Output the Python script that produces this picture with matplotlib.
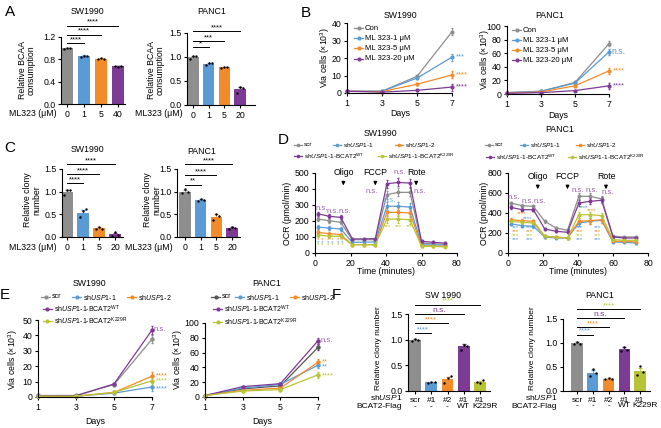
import matplotlib
matplotlib.use('Agg')
import matplotlib.pyplot as plt
import numpy as np
from matplotlib.lines import Line2D

plt.rcParams['font.family'] = ['Liberation Sans', 'DejaVu Sans']
plt.rcParams['mathtext.fontset'] = 'custom'
plt.rcParams['mathtext.rm'] = 'Liberation Sans'
plt.rcParams['mathtext.it'] = 'Liberation Sans:italic'
plt.rcParams['axes.linewidth'] = 0.8
plt.rcParams['xtick.major.size'] = 2.5
plt.rcParams['ytick.major.size'] = 2.5
plt.rcParams['xtick.major.width'] = 0.8
plt.rcParams['ytick.major.width'] = 0.8
plt.rcParams['xtick.major.pad'] = 1.5
plt.rcParams['ytick.major.pad'] = 1.5
plt.rcParams['xtick.labelsize'] = 6.3
plt.rcParams['ytick.labelsize'] = 6.3

GRAY = '#8e8e8e'
DGRAY = '#555555'
BLUE = '#5b9bd5'
ORANGE = '#f28b2a'
PURPLE = '#7e3b96'
YELLOW = '#b8c437'

#%% data
# A: relative BCAA consumption
a_sw_dose = ['0', '1', '5', '40']
a_sw_mean = [1.0, 0.86, 0.81, 0.68]
a_sw_err = [0.01, 0.01, 0.01, 0.005]
a_sw_pts = [[0.98, 1.01, 1.0], [0.85, 0.86, 0.86], [0.80, 0.82, 0.81], [0.68, 0.67, 0.68]]
a_pa_dose = ['0', '1', '5', '20']
a_pa_mean = [1.0, 0.86, 0.79, 0.33]
a_pa_err = [0.03, 0.02, 0.01, 0.05]
a_pa_pts = [[0.95, 1.03, 1.02], [0.84, 0.87, 0.88], [0.78, 0.80, 0.79], [0.26, 0.38, 0.36]]

# C: relative clony number
c_sw_dose = ['0', '1', '5', '20']
c_sw_mean = [1.0, 0.53, 0.19, 0.06]
c_sw_err = [0.04, 0.07, 0.02, 0.03]
c_sw_pts = [[0.93, 1.03, 1.04], [0.45, 0.57, 0.62], [0.18, 0.21, 0.18], [0.03, 0.10, 0.05]]
c_pa_dose = ['0', '1', '5', '20']
c_pa_mean = [1.0, 0.81, 0.45, 0.20]
c_pa_err = [0.03, 0.02, 0.05, 0.02]
c_pa_pts = [[0.97, 1.05, 1.0], [0.79, 0.83, 0.82], [0.38, 0.50, 0.46], [0.18, 0.22, 0.20]]

# B: viable cells (x10^3)
days = [1, 3, 5, 7]
b_sw_con = [1.0, 1.0, 9.5, 35.0]
b_sw_1 = [1.0, 1.0, 8.5, 20.5]
b_sw_5 = [1.0, 0.8, 5.0, 10.3]
b_sw_20 = [1.0, 0.5, 1.5, 3.4]
b_sw_err = [0.2, 0.2, 0.5, 2.0]
b_pa_con = [2.0, 4.0, 17.0, 74.0]
b_pa_1 = [2.0, 4.0, 16.0, 62.0]
b_pa_5 = [1.5, 3.0, 12.0, 34.0]
b_pa_20 = [1.0, 2.0, 5.0, 12.0]
b_pa_err = [0.5, 0.5, 1.0, 4.0]
b_labels = ['Con', 'ML 323-1 μM', 'ML 323-5 μM', 'ML 323-20 μM']

# D: OCR (pmol/min)
t_ocr = [1.5, 8, 14.5, 21, 27.5, 34, 40.5, 47, 53.5, 60, 66.5, 73]
d_sw_scr = [212, 202, 192, 83, 83, 83, 365, 379, 379, 62, 58, 54]
d_sw_sh1 = [162, 156, 150, 67, 67, 69, 292, 292, 287, 52, 50, 50]
d_sw_sh2 = [129, 121, 115, 52, 52, 52, 254, 254, 250, 46, 42, 42]
d_sw_wt = [246, 229, 223, 88, 88, 90, 433, 441, 437, 73, 67, 62]
d_sw_kr = [115, 104, 104, 52, 52, 52, 212, 212, 208, 42, 42, 38]
d_sw_err = [12, 12, 12, 6, 6, 6, 25, 25, 25, 6, 6, 6]
d_pa_scr = [500, 473, 467, 317, 250, 227, 567, 567, 540, 167, 160, 160]
d_pa_sh1 = [293, 273, 267, 160, 150, 150, 300, 317, 327, 110, 107, 100]
d_pa_sh2 = [333, 323, 317, 167, 160, 150, 317, 323, 333, 117, 117, 110]
d_pa_wt = [457, 433, 433, 240, 217, 207, 500, 517, 527, 160, 150, 150]
d_pa_kr = [317, 307, 300, 167, 157, 150, 383, 383, 373, 133, 127, 127]
d_pa_err = [15, 15, 15, 12, 10, 10, 30, 30, 30, 8, 8, 8]

# E: viable cells (x10^3)
e_sw_scr = [1.0, 1.0, 8.0, 37.5]
e_sw_sh1 = [0.5, 0.5, 2.5, 6.5]
e_sw_sh2 = [0.5, 0.5, 3.0, 13.5]
e_sw_wt = [0.5, 0.8, 8.5, 43.5]
e_sw_kr = [0.5, 0.5, 3.0, 10.5]
e_sw_err = [0.2, 0.2, 0.5, 2.5]
e_pa_scr = [2.0, 11.0, 15.0, 67.0]
e_pa_sh1 = [2.0, 12.0, 17.0, 43.0]
e_pa_sh2 = [2.0, 9.0, 12.0, 47.0]
e_pa_wt = [2.0, 14.0, 18.0, 76.0]
e_pa_kr = [2.0, 8.0, 10.0, 30.0]
e_pa_err = [0.5, 1.0, 1.5, 4.0]
sh_labels = ['scr', r'sh$\it{USP1}$-1', r'sh$\it{USP1}$-2',
             r'sh$\it{USP1}$-1-BCAT2$^{\rm WT}$', r'sh$\it{USP1}$-1-BCAT2$^{\rm K229R}$']

# F: relative clony number
f_sh = ['scr', '#1', '#2', '#1', '#1']
f_flag = ['-', '-', '-', 'WT', 'K229R']
f_sw_mean = [1.0, 0.17, 0.23, 0.87, 0.18]
f_sw_err = [0.02, 0.01, 0.05, 0.04, 0.02]
f_sw_pts = [[0.97, 1.02, 1.0], [0.15, 0.18, 0.17], [0.15, 0.25, 0.29], [0.80, 0.90, 0.88], [0.17, 0.16, 0.22]]
f_pa_mean = [1.0, 0.38, 0.26, 0.87, 0.41]
f_pa_err = [0.02, 0.05, 0.01, 0.04, 0.06]
f_pa_pts = [[0.98, 1.02, 0.98], [0.32, 0.45, 0.38], [0.24, 0.28, 0.26], [0.83, 0.92, 0.86], [0.33, 0.52, 0.40]]

#%% helpers, everything placed in pixels of the 661x428 picture
W, H = 661, 428
fig = plt.figure(figsize=(W / 100, H / 100), dpi=100)


def px_ax(x0, x1, ytop, ybot):
    ax = fig.add_axes([x0 / W, 1 - ybot / H, (x1 - x0) / W, (ybot - ytop) / H])
    ax.spines['top'].set_visible(False)
    ax.spines['right'].set_visible(False)
    return ax


def ftext(x, y, s, **kw):
    kw.setdefault('fontsize', 6.3)
    kw.setdefault('ha', 'center')
    kw.setdefault('va', 'center')
    fig.text(x / W, 1 - y / H, s, **kw)


def leg(x, y, col, label, fs=5, length=9, ms=2):
    fig.add_artist(Line2D([x / W, (x + length / 2) / W, (x + length) / W], [1 - y / H] * 3,
                          color=col, lw=0.9, marker='o', ms=ms, markevery=[1]))
    ftext(x + length + 2, y, label, fontsize=fs, ha='left')


def bar_panel(xs, c0, cn, xe, ytop, ybot, means, errs, pts, cols, ymax, yticks, labels):
    n = len(means)
    s = (cn - c0) / (n - 1)
    ax = px_ax(xs, xe, ytop, ybot)
    x = np.arange(n)
    ax.bar(x, means, width=0.72, color=cols, zorder=1)
    for i in range(n):
        ax.errorbar(i, means[i], yerr=errs[i], color=cols[i], lw=0.6, capsize=1.2, zorder=2)
        p = pts[i]
        ax.scatter(i + np.linspace(-0.2, 0.2, len(p)), p, s=3, color='k', zorder=3, lw=0)
    ax.set_xlim((xs - c0) / s, n - 1 + (xe - cn) / s)
    ax.set_ylim(0, ymax)
    ax.set_yticks(yticks)
    ax.set_xticks(x)
    ax.set_xticklabels(labels)
    return ax


def sig(ax, x0, x1, y, s, col='k', fs=5.5):
    ax.plot([x0, x1], [y, y], color='k', lw=0.7, clip_on=False)
    ax.text((x0 + x1) / 2, y, s, ha='center', va='bottom', fontsize=fs, color=col)


def line_panel(x0, x1, ytop, ybot, xv, series, errs, ymax, yticks, ms=2):
    ax = px_ax(x0, x1, ytop, ybot)
    for vals, col in series:
        ax.errorbar(xv, vals, yerr=errs, color=col, lw=0.9, marker='o', ms=ms,
                    capsize=1, elinewidth=0.6, clip_on=False)
    ax.set_ylim(0, ymax)
    ax.set_yticks(yticks)
    return ax


#%% A
cols4 = [GRAY, BLUE, ORANGE, PURPLE]
ax = bar_panel(61, 67, 118, 125, 37, 104, a_sw_mean, a_sw_err, a_sw_pts, cols4, 1.2,
               [0, 0.4, 0.8, 1.2], a_sw_dose)
ax.set_yticklabels(['0.0', '0.4', '0.8', '1.2'])
sig(ax, 0, 1, 1.09, '****')
sig(ax, 0, 2, 1.24, '****')
sig(ax, 0, 3, 1.40, '****')
ax = bar_panel(187, 193, 240, 255, 33, 105, a_pa_mean, a_pa_err, a_pa_pts, cols4, 1.5,
               [0, 0.5, 1.0, 1.5], a_pa_dose)
sig(ax, 0, 1, 1.21, '*')
sig(ax, 0, 2, 1.33, '***')
sig(ax, 0, 3, 1.54, '****')
ftext(10, 12, 'A', fontsize=11)
ftext(87, 12, 'SW1990')
ftext(212, 12, 'PANC1')
ftext(27, 70, 'Relative BCAA\nconsumption', rotation=90, linespacing=1.0)
ftext(156, 70, 'Relative BCAA\nconsumption', rotation=90, linespacing=1.0)
ftext(57, 113, 'ML323 (μM)', ha='right')
ftext(183, 113, 'ML323 (μM)', ha='right')

#%% C
ax = bar_panel(62, 67, 115, 123, 169, 237, c_sw_mean, c_sw_err, c_sw_pts, cols4, 1.5,
               [0, 0.5, 1.0, 1.5], c_sw_dose)
sig(ax, 0, 1, 1.19, '****')
sig(ax, 0, 2, 1.39, '****')
sig(ax, 0, 3, 1.61, '****')
ax = bar_panel(177, 185, 232, 240, 169, 237, c_pa_mean, c_pa_err, c_pa_pts, cols4, 1.5,
               [0, 0.5, 1.0, 1.5], c_pa_dose)
sig(ax, 0, 1, 1.15, '**')
sig(ax, 0, 2, 1.37, '****')
sig(ax, 0, 3, 1.61, '****')
ftext(10, 148, 'C', fontsize=11)
ftext(87, 150, 'SW1990')
ftext(202, 151, 'PANC1')
ftext(32, 200, 'Relative clony\nnumber', rotation=90, linespacing=1.0)
ftext(152, 200, 'Relative clony\nnumber', rotation=90, linespacing=1.0)
ftext(57, 247, 'ML323 (μM)', ha='right')
ftext(173, 247, 'ML323 (μM)', ha='right')

#%% B
ax = line_panel(347, 452, 23, 93, days,
                [(b_sw_con, GRAY), (b_sw_1, BLUE), (b_sw_5, ORANGE), (b_sw_20, PURPLE)],
                b_sw_err, 40, [0, 10, 20, 30, 40])
ax.set_xlim(1, 7)
ax.set_xticks(days)
ax.text(7.2, 20.5, '***', color=BLUE, fontsize=5.5, va='center')
ax.text(7.2, 10.3, '****', color=ORANGE, fontsize=5.5, va='center')
ax.text(7.2, 3.4, '****', color=PURPLE, fontsize=5.5, va='center')
ax = line_panel(507, 609, 26, 94, days,
                [(b_pa_con, GRAY), (b_pa_1, BLUE), (b_pa_5, ORANGE), (b_pa_20, PURPLE)],
                b_pa_err, 100, [0, 20, 40, 60, 80, 100])
ax.set_xlim(1, 7)
ax.set_xticks(days)
ax.text(7.15, 62, 'n.s.', color=BLUE, fontsize=6.3, va='center')
ax.text(7.2, 34, '****', color=ORANGE, fontsize=5.5, va='center')
ax.text(7.2, 12, '****', color=PURPLE, fontsize=5.5, va='center')
ftext(306, 13, 'B', fontsize=11)
ftext(400, 15, 'SW1990')
ftext(550, 15, 'PANC1')
ftext(325, 58, r'Via cells ($\times$10$^3$)', rotation=90)
ftext(485, 60, r'Via cells ($\times$10$^3$)', rotation=90)
ftext(400, 113, 'Days')
ftext(558, 115, 'Days')
for i, (lab, col) in enumerate(zip(b_labels, cols4)):
    leg(354, 28 + i * 10.2, col, lab, fs=5.6, length=9)
    leg(512, 30 + i * 10, col, lab, fs=5.6, length=9)

#%% D
cols5 = [GRAY, BLUE, ORANGE, PURPLE, YELLOW]
ax = line_panel(315, 457, 173, 253, t_ocr,
                [(d_sw_scr, GRAY), (d_sw_sh1, BLUE), (d_sw_sh2, ORANGE), (d_sw_wt, PURPLE),
                 (d_sw_kr, YELLOW)], d_sw_err, 500, [0, 100, 200, 300, 400, 500], ms=1.8)
ax.set_xlim(0, 80)
ax.set_xticks([0, 20, 40, 60, 80])
for tx, lab in [(16, 'Oligo'), (34, 'FCCP'), (57, 'Rote')]:
    ax.text(tx, 500, lab, fontsize=6.3, ha='center', va='center')
    ax.annotate('', xy=(tx, 405), xytext=(tx, 465), annotation_clip=False,
                arrowprops=dict(arrowstyle='-|>', lw=0.8, color='k', mutation_scale=5))
for tx, ty in [(3.5, 280), (10, 262), (17, 262), (32, 385), (48, 500), (59, 385)]:
    ax.text(tx, ty, 'n.s.', fontsize=5.6, color=PURPLE, ha='center', va='center', alpha=0.8)
ax.text(42, 330, 'n.s.', fontsize=5.6, color=BLUE, ha='center', va='center', alpha=0.8)
for tx in [3, 8.5, 14.5]:
    for ty, col in [(95, YELLOW), (78, ORANGE), (61, BLUE), (44, YELLOW)]:
        ax.text(tx, ty, '* *', fontsize=4.5, color=col, ha='center', va='center')
for tx in [41, 47, 53]:
    ax.text(tx, 165, '***', fontsize=4.5, color=YELLOW, ha='center', va='center')
ax = line_panel(508, 648, 173, 253, t_ocr,
                [(d_pa_scr, GRAY), (d_pa_sh1, BLUE), (d_pa_sh2, ORANGE), (d_pa_wt, PURPLE),
                 (d_pa_kr, YELLOW)], d_pa_err, 800, [0, 200, 400, 600, 800], ms=1.8)
ax.set_xlim(0, 80)
ax.set_xticks([0, 20, 40, 60, 80])
for tx, lab in [(17, 'Oligo'), (34, 'FCCP'), (56, 'Rote')]:
    ax.text(tx, 760, lab, fontsize=6.3, ha='center', va='center')
    ax.annotate('', xy=(tx, 610), xytext=(tx, 705), annotation_clip=False,
                arrowprops=dict(arrowstyle='-|>', lw=0.8, color='k', mutation_scale=5))
for tx, ty in [(3.5, 556), (11.5, 516), (18, 516), (40, 626), (48, 626), (57, 606)]:
    ax.text(tx, ty, 'n.s.', fontsize=5.6, color=PURPLE, ha='center', va='center', alpha=0.8)
ax.text(8, 393, '****', fontsize=4.5, color=ORANGE, ha='center', va='center')
ax.text(11, 345, '****', fontsize=4.5, color=BLUE, ha='center', va='center')
ax.text(43, 450, '****', fontsize=4.5, color=BLUE, ha='center', va='center')
ax.text(48, 420, '****', fontsize=4.5, color=ORANGE, ha='center', va='center')
for tx in [4, 12, 41, 51]:
    for ty, col in [(250, BLUE), (210, ORANGE), (170, YELLOW), (130, BLUE)]:
        ax.text(tx, ty, '***', fontsize=4.5, color=col, ha='center', va='center')
ftext(283, 140, 'D', fontsize=11)
ftext(380, 133, 'SW1990')
ftext(560, 130, 'PANC1')
ftext(287, 213, 'OCR (pmol/min)', rotation=90)
ftext(485, 213, 'OCR (pmol/min)', rotation=90)
ftext(386, 272, 'Time (minutes)')
ftext(578, 272, 'Time (minutes)')
leg(294, 145, GRAY, sh_labels[0], fs=4.6, length=8, ms=1.6)
leg(333, 145, BLUE, sh_labels[1], fs=4.6, length=8, ms=1.6)
leg(395, 145, ORANGE, sh_labels[2], fs=4.6, length=8, ms=1.6)
leg(294, 156, PURPLE, sh_labels[3], fs=4.6, length=8, ms=1.6)
leg(378, 156, YELLOW, sh_labels[4], fs=4.6, length=8, ms=1.6)
leg(485, 145, GRAY, sh_labels[0], fs=4.6, length=8, ms=1.6)
leg(520, 145, BLUE, sh_labels[1], fs=4.6, length=8, ms=1.6)
leg(576, 145, ORANGE, sh_labels[2], fs=4.6, length=8, ms=1.6)
leg(486, 157, PURPLE, sh_labels[3], fs=4.6, length=8, ms=1.6)
leg(568, 157, YELLOW, sh_labels[4], fs=4.6, length=8, ms=1.6)

#%% E
ax = line_panel(38, 152, 320, 397, days,
                [(e_sw_scr, GRAY), (e_sw_sh1, BLUE), (e_sw_sh2, ORANGE), (e_sw_wt, PURPLE),
                 (e_sw_kr, YELLOW)], e_sw_err, 50, [0, 10, 20, 30, 40, 50], ms=2.2)
ax.set_xlim(1, 7)
ax.set_xticks(days)
ax.text(7.1, 44, 'n.s.', color=PURPLE, fontsize=5.6, va='center', alpha=0.8)
ax.text(7.2, 14, '****', color=ORANGE, fontsize=5.5, va='center')
ax.text(7.2, 10.5, '****', color=YELLOW, fontsize=5.5, va='center')
ax.text(7.2, 5.5, '****', color=BLUE, fontsize=5.5, va='center')
ax = line_panel(205, 318, 323, 397, days,
                [(e_pa_scr, DGRAY), (e_pa_sh1, BLUE), (e_pa_sh2, ORANGE), (e_pa_wt, PURPLE),
                 (e_pa_kr, YELLOW)], e_pa_err, 100, [0, 20, 40, 60, 80, 100], ms=2.2)
ax.set_xlim(1, 7)
ax.set_xticks(days)
ax.text(7.15, 76, 'n.s.', color=PURPLE, fontsize=5.6, va='center', alpha=0.8)
ax.text(7.2, 48, '**', color=ORANGE, fontsize=5.5, va='center')
ax.text(7.2, 41, '**', color=BLUE, fontsize=5.5, va='center')
ax.text(7.2, 29, '****', color=YELLOW, fontsize=5.5, va='center')
ftext(5, 295, 'E', fontsize=11)
ftext(89, 283, 'SW1990')
ftext(267, 283, 'PANC1')
ftext(13, 360, r'Via cells ($\times$10$^3$)', rotation=90)
ftext(178, 360, r'Via cells ($\times$10$^3$)', rotation=90)
ftext(95, 421, 'Days')
ftext(262, 421, 'Days')
leg(41, 297, GRAY, sh_labels[0], fs=5, length=9)
leg(72, 297, BLUE, sh_labels[1], fs=5, length=9)
leg(127, 297, ORANGE, sh_labels[2], fs=5, length=9)
leg(43, 309, PURPLE, sh_labels[3], fs=5, length=9)
leg(43, 321, YELLOW, sh_labels[4], fs=5, length=9)
leg(211, 297, DGRAY, sh_labels[0], fs=5, length=9)
leg(235, 297, BLUE, sh_labels[1], fs=5, length=9)
leg(290, 297, ORANGE, sh_labels[2], fs=5, length=9)
leg(213, 309, PURPLE, sh_labels[3], fs=5, length=9)
leg(213, 322, YELLOW, sh_labels[4], fs=5, length=9)

#%% F
for xs, c0, cn, xe, ytop, means, errs, pts, lines, xr, yl in [
        (408, 415, 480, 490, 314, f_sw_mean, f_sw_err, f_sw_pts, [1.13, 1.32, 1.50, 1.68], 402, 378),
        (563, 577, 640, 650, 319, f_pa_mean, f_pa_err, f_pa_pts, [1.17, 1.33, 1.52, 1.71], 557, 533)]:
    ax = bar_panel(xs, c0, cn, xe, ytop, 391, means, errs, pts, cols5, 1.5,
                   [0, 0.5, 1.0, 1.5], f_sh)
    ax.tick_params(axis='x', labelsize=6)
    # second row of x labels, K229R nudged right as in the figure
    for i, lab in enumerate(f_flag):
        ax.text(i + (0.3 if lab == 'K229R' else 0), -0.3, lab, ha='center', va='center',
                fontsize=6, clip_on=False)
    sig(ax, 0, 1, lines[0], '****', BLUE)
    sig(ax, 0, 2, lines[1], '****', ORANGE)
    sig(ax, 0, 3, lines[2], 'n.s.', PURPLE, fs=6)
    sig(ax, 0, 4, lines[3], '****', YELLOW)
    ftext(xr, 397, r'sh$\it{USP1}$', ha='right', fontsize=6)
    ftext(xr, 407, 'BCAT2-Flag', ha='right', fontsize=6)
    ftext(yl, 348, 'Relative clony number', rotation=90, fontsize=6)
ftext(336, 295, 'F', fontsize=11)
ftext(443, 295, 'SW 1990')
ftext(600, 295, 'PANC1')

fig.savefig('out.png', dpi=100)
